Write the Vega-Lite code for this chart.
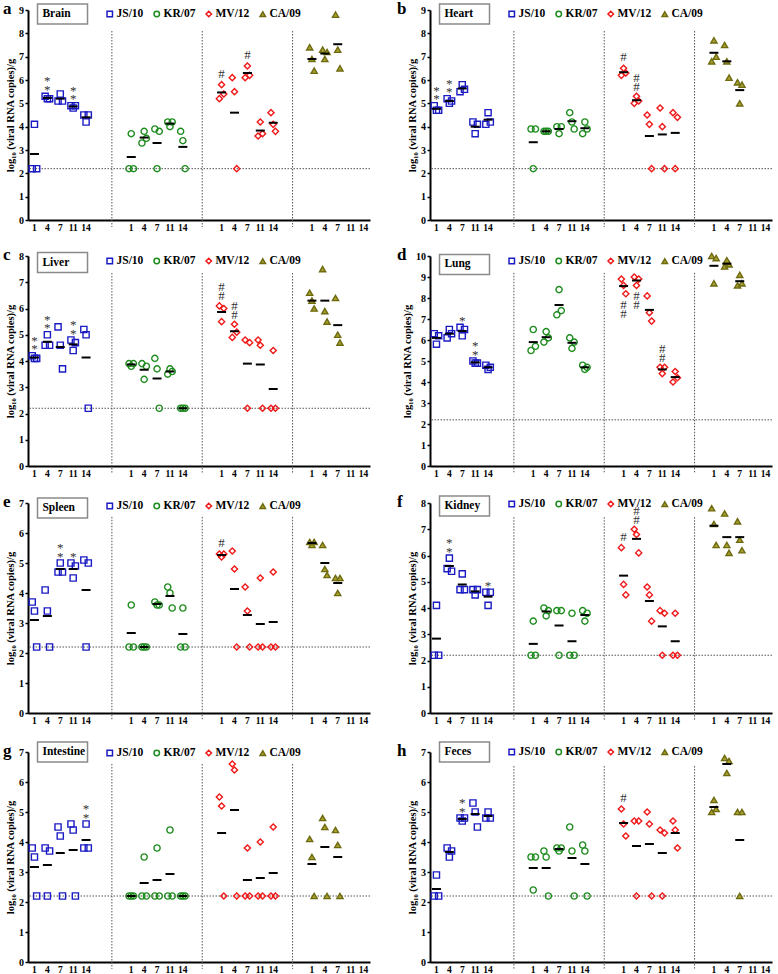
{
"$schema": "https://vega.github.io/schema/vega-lite/v6.json",
"background": "white",
"padding": {"left": 2, "top": 0, "right": 0, "bottom": 0},
"config": {
 "view": {"stroke": null},
 "font": "Liberation Serif",
 "text": {"font": "Liberation Serif"},
 "rule": {"color": "#555", "strokeWidth": 1, "strokeDash": [1.5, 1.5]},
 "axis": {"labelFont": "Liberation Serif", "labelFontWeight": "bold", "labelColor": "#000", "titleFont": "Liberation Serif", "titleFontWeight": "bold", "titleColor": "#000", "domainColor": "#000", "domainWidth": 2, "tickColor": "#000", "grid": false},
 "axisX": {"ticks": false, "labelFontSize": 9.5, "labelPadding": 2, "labelAngle": 0, "labelOverlap": false},
 "axisY": {"tickSize": 3, "tickWidth": 1.5, "labelFontSize": 10, "labelPadding": 1.5, "labelOverlap": false, "titleFontSize": 10.5, "titlePadding": 3},
 "legend": {"labelFont": "Liberation Serif", "labelFontWeight": "bold", "labelFontSize": 11.5, "labelColor": "#000", "symbolSize": 30, "symbolStrokeWidth": 1.5, "columnPadding": 7, "labelOffset": 1, "padding": 0, "rowPadding": 0}
},
"datasets": {
"brain": [
{"virus":"JS/10","cond":"JS/10|1","mouse":1,"value":2.2},{"virus":"JS/10","cond":"JS/10|1","mouse":2,"value":4.1},{"virus":"JS/10","cond":"JS/10|1","mouse":3,"value":2.2},
{"virus":"JS/10","cond":"JS/10|4","mouse":1,"value":5.3,"star":"*\n*"},{"virus":"JS/10","cond":"JS/10|4","mouse":2,"value":5.2},{"virus":"JS/10","cond":"JS/10|4","mouse":3,"value":5.2},
{"virus":"JS/10","cond":"JS/10|7","mouse":1,"value":5.1},{"virus":"JS/10","cond":"JS/10|7","mouse":2,"value":5.4},{"virus":"JS/10","cond":"JS/10|7","mouse":3,"value":5.1},
{"virus":"JS/10","cond":"JS/10|11","mouse":1,"value":4.9,"star":"*\n*"},{"virus":"JS/10","cond":"JS/10|11","mouse":2,"value":4.8},{"virus":"JS/10","cond":"JS/10|11","mouse":3,"value":4.9},
{"virus":"JS/10","cond":"JS/10|14","mouse":1,"value":4.5},{"virus":"JS/10","cond":"JS/10|14","mouse":2,"value":4.2},{"virus":"JS/10","cond":"JS/10|14","mouse":3,"value":4.5},
{"virus":"KR/07","cond":"KR/07|1","mouse":1,"value":2.2},{"virus":"KR/07","cond":"KR/07|1","mouse":2,"value":3.7},{"virus":"KR/07","cond":"KR/07|1","mouse":3,"value":2.2},
{"virus":"KR/07","cond":"KR/07|4","mouse":1,"value":3.3},{"virus":"KR/07","cond":"KR/07|4","mouse":2,"value":3.8},{"virus":"KR/07","cond":"KR/07|4","mouse":3,"value":3.5},
{"virus":"KR/07","cond":"KR/07|7","mouse":1,"value":3.9},{"virus":"KR/07","cond":"KR/07|7","mouse":2,"value":2.2},{"virus":"KR/07","cond":"KR/07|7","mouse":3,"value":3.8},
{"virus":"KR/07","cond":"KR/07|11","mouse":1,"value":4.2},{"virus":"KR/07","cond":"KR/07|11","mouse":2,"value":4.0},{"virus":"KR/07","cond":"KR/07|11","mouse":3,"value":4.2},
{"virus":"KR/07","cond":"KR/07|14","mouse":1,"value":3.8},{"virus":"KR/07","cond":"KR/07|14","mouse":2,"value":3.4},{"virus":"KR/07","cond":"KR/07|14","mouse":3,"value":2.2},
{"virus":"MV/12","cond":"MV/12|1","mouse":1,"value":5.2},{"virus":"MV/12","cond":"MV/12|1","mouse":2,"value":5.8,"hash":"#"},{"virus":"MV/12","cond":"MV/12|1","mouse":3,"value":5.4},
{"virus":"MV/12","cond":"MV/12|4","mouse":1,"value":6.1},{"virus":"MV/12","cond":"MV/12|4","mouse":2,"value":5.5},{"virus":"MV/12","cond":"MV/12|4","mouse":3,"value":2.2},
{"virus":"MV/12","cond":"MV/12|7","mouse":1,"value":6.1},{"virus":"MV/12","cond":"MV/12|7","mouse":2,"value":6.6,"hash":"#"},{"virus":"MV/12","cond":"MV/12|7","mouse":3,"value":6.2},
{"virus":"MV/12","cond":"MV/12|11","mouse":1,"value":3.6},{"virus":"MV/12","cond":"MV/12|11","mouse":2,"value":4.2},{"virus":"MV/12","cond":"MV/12|11","mouse":3,"value":3.7},
{"virus":"MV/12","cond":"MV/12|14","mouse":1,"value":4.6},{"virus":"MV/12","cond":"MV/12|14","mouse":2,"value":4.1},{"virus":"MV/12","cond":"MV/12|14","mouse":3,"value":3.8},
{"virus":"CA/09","cond":"CA/09|1","mouse":1,"value":7.4},{"virus":"CA/09","cond":"CA/09|1","mouse":2,"value":6.9},{"virus":"CA/09","cond":"CA/09|1","mouse":3,"value":6.4},
{"virus":"CA/09","cond":"CA/09|4","mouse":1,"value":7.3},{"virus":"CA/09","cond":"CA/09|4","mouse":2,"value":6.9},{"virus":"CA/09","cond":"CA/09|4","mouse":3,"value":7.2},
{"virus":"CA/09","cond":"CA/09|7","mouse":1,"value":8.8},{"virus":"CA/09","cond":"CA/09|7","mouse":2,"value":7.3},{"virus":"CA/09","cond":"CA/09|7","mouse":3,"value":6.5}
],
"heart": [
{"virus":"JS/10","cond":"JS/10|1","mouse":1,"value":4.9,"star":"*\n*"},{"virus":"JS/10","cond":"JS/10|1","mouse":2,"value":4.7},{"virus":"JS/10","cond":"JS/10|1","mouse":3,"value":4.7},
{"virus":"JS/10","cond":"JS/10|4","mouse":1,"value":5.2,"star":"*\n*"},{"virus":"JS/10","cond":"JS/10|4","mouse":2,"value":5.0},{"virus":"JS/10","cond":"JS/10|4","mouse":3,"value":5.1},
{"virus":"JS/10","cond":"JS/10|7","mouse":1,"value":5.5},{"virus":"JS/10","cond":"JS/10|7","mouse":2,"value":5.8},{"virus":"JS/10","cond":"JS/10|7","mouse":3,"value":5.6},
{"virus":"JS/10","cond":"JS/10|11","mouse":1,"value":4.2},{"virus":"JS/10","cond":"JS/10|11","mouse":2,"value":3.7},{"virus":"JS/10","cond":"JS/10|11","mouse":3,"value":4.1},
{"virus":"JS/10","cond":"JS/10|14","mouse":1,"value":4.1},{"virus":"JS/10","cond":"JS/10|14","mouse":2,"value":4.6},{"virus":"JS/10","cond":"JS/10|14","mouse":3,"value":4.2},
{"virus":"KR/07","cond":"KR/07|1","mouse":1,"value":3.9},{"virus":"KR/07","cond":"KR/07|1","mouse":2,"value":2.2},{"virus":"KR/07","cond":"KR/07|1","mouse":3,"value":3.9},
{"virus":"KR/07","cond":"KR/07|4","mouse":1,"value":3.8},{"virus":"KR/07","cond":"KR/07|4","mouse":2,"value":3.8},{"virus":"KR/07","cond":"KR/07|4","mouse":3,"value":3.8},
{"virus":"KR/07","cond":"KR/07|7","mouse":1,"value":4.0},{"virus":"KR/07","cond":"KR/07|7","mouse":2,"value":3.7},{"virus":"KR/07","cond":"KR/07|7","mouse":3,"value":4.0},
{"virus":"KR/07","cond":"KR/07|11","mouse":1,"value":4.6},{"virus":"KR/07","cond":"KR/07|11","mouse":2,"value":4.2},{"virus":"KR/07","cond":"KR/07|11","mouse":3,"value":3.9},
{"virus":"KR/07","cond":"KR/07|14","mouse":1,"value":3.7},{"virus":"KR/07","cond":"KR/07|14","mouse":2,"value":4.2},{"virus":"KR/07","cond":"KR/07|14","mouse":3,"value":3.9},
{"virus":"MV/12","cond":"MV/12|1","mouse":1,"value":6.2},{"virus":"MV/12","cond":"MV/12|1","mouse":2,"value":6.5,"hash":"#"},{"virus":"MV/12","cond":"MV/12|1","mouse":3,"value":6.3},
{"virus":"MV/12","cond":"MV/12|4","mouse":1,"value":5.0},{"virus":"MV/12","cond":"MV/12|4","mouse":2,"value":5.3,"hash":"#\n#"},{"virus":"MV/12","cond":"MV/12|4","mouse":3,"value":5.1},
{"virus":"MV/12","cond":"MV/12|7","mouse":1,"value":4.5},{"virus":"MV/12","cond":"MV/12|7","mouse":2,"value":4.1},{"virus":"MV/12","cond":"MV/12|7","mouse":3,"value":2.2},
{"virus":"MV/12","cond":"MV/12|11","mouse":1,"value":4.8},{"virus":"MV/12","cond":"MV/12|11","mouse":2,"value":4.0},{"virus":"MV/12","cond":"MV/12|11","mouse":3,"value":2.2},
{"virus":"MV/12","cond":"MV/12|14","mouse":1,"value":4.6},{"virus":"MV/12","cond":"MV/12|14","mouse":2,"value":2.2},{"virus":"MV/12","cond":"MV/12|14","mouse":3,"value":4.4},
{"virus":"CA/09","cond":"CA/09|1","mouse":1,"value":6.8},{"virus":"CA/09","cond":"CA/09|1","mouse":2,"value":7.7},{"virus":"CA/09","cond":"CA/09|1","mouse":3,"value":7.0},
{"virus":"CA/09","cond":"CA/09|4","mouse":1,"value":7.5},{"virus":"CA/09","cond":"CA/09|4","mouse":2,"value":6.8},{"virus":"CA/09","cond":"CA/09|4","mouse":3,"value":6.1},
{"virus":"CA/09","cond":"CA/09|7","mouse":1,"value":5.9},{"virus":"CA/09","cond":"CA/09|7","mouse":2,"value":5.0},{"virus":"CA/09","cond":"CA/09|7","mouse":3,"value":5.8}
],
"liver": [
{"virus":"JS/10","cond":"JS/10|1","mouse":1,"value":4.2,"star":"*\n*"},{"virus":"JS/10","cond":"JS/10|1","mouse":2,"value":4.1},{"virus":"JS/10","cond":"JS/10|1","mouse":3,"value":4.1},
{"virus":"JS/10","cond":"JS/10|4","mouse":1,"value":4.6},{"virus":"JS/10","cond":"JS/10|4","mouse":2,"value":5.0,"star":"*\n*"},{"virus":"JS/10","cond":"JS/10|4","mouse":3,"value":4.6},
{"virus":"JS/10","cond":"JS/10|7","mouse":1,"value":5.3},{"virus":"JS/10","cond":"JS/10|7","mouse":2,"value":4.6},{"virus":"JS/10","cond":"JS/10|7","mouse":3,"value":3.7},
{"virus":"JS/10","cond":"JS/10|11","mouse":1,"value":4.8,"star":"*\n*"},{"virus":"JS/10","cond":"JS/10|11","mouse":2,"value":4.4},{"virus":"JS/10","cond":"JS/10|11","mouse":3,"value":4.7},
{"virus":"JS/10","cond":"JS/10|14","mouse":1,"value":5.2},{"virus":"JS/10","cond":"JS/10|14","mouse":2,"value":5.0},{"virus":"JS/10","cond":"JS/10|14","mouse":3,"value":2.2},
{"virus":"KR/07","cond":"KR/07|1","mouse":1,"value":3.9},{"virus":"KR/07","cond":"KR/07|1","mouse":2,"value":3.8},{"virus":"KR/07","cond":"KR/07|1","mouse":3,"value":3.9},
{"virus":"KR/07","cond":"KR/07|4","mouse":1,"value":3.9},{"virus":"KR/07","cond":"KR/07|4","mouse":2,"value":3.3},{"virus":"KR/07","cond":"KR/07|4","mouse":3,"value":3.8},
{"virus":"KR/07","cond":"KR/07|7","mouse":1,"value":4.1},{"virus":"KR/07","cond":"KR/07|7","mouse":2,"value":3.7},{"virus":"KR/07","cond":"KR/07|7","mouse":3,"value":2.2},
{"virus":"KR/07","cond":"KR/07|11","mouse":1,"value":3.5},{"virus":"KR/07","cond":"KR/07|11","mouse":2,"value":3.7},{"virus":"KR/07","cond":"KR/07|11","mouse":3,"value":3.6},
{"virus":"KR/07","cond":"KR/07|14","mouse":1,"value":2.2},{"virus":"KR/07","cond":"KR/07|14","mouse":2,"value":2.2},{"virus":"KR/07","cond":"KR/07|14","mouse":3,"value":2.2},
{"virus":"MV/12","cond":"MV/12|1","mouse":1,"value":6.1,"hash":"#\n#"},{"virus":"MV/12","cond":"MV/12|1","mouse":2,"value":5.5},{"virus":"MV/12","cond":"MV/12|1","mouse":3,"value":6.0},
{"virus":"MV/12","cond":"MV/12|4","mouse":1,"value":4.9},{"virus":"MV/12","cond":"MV/12|4","mouse":2,"value":5.4,"hash":"#\n#"},{"virus":"MV/12","cond":"MV/12|4","mouse":3,"value":5.1},
{"virus":"MV/12","cond":"MV/12|7","mouse":1,"value":4.8},{"virus":"MV/12","cond":"MV/12|7","mouse":2,"value":2.2},{"virus":"MV/12","cond":"MV/12|7","mouse":3,"value":4.7},
{"virus":"MV/12","cond":"MV/12|11","mouse":1,"value":4.8},{"virus":"MV/12","cond":"MV/12|11","mouse":2,"value":4.6},{"virus":"MV/12","cond":"MV/12|11","mouse":3,"value":2.2},
{"virus":"MV/12","cond":"MV/12|14","mouse":1,"value":2.2},{"virus":"MV/12","cond":"MV/12|14","mouse":2,"value":4.4},{"virus":"MV/12","cond":"MV/12|14","mouse":3,"value":2.2},
{"virus":"CA/09","cond":"CA/09|1","mouse":1,"value":6.6},{"virus":"CA/09","cond":"CA/09|1","mouse":2,"value":6.3},{"virus":"CA/09","cond":"CA/09|1","mouse":3,"value":6.0},
{"virus":"CA/09","cond":"CA/09|4","mouse":1,"value":7.5},{"virus":"CA/09","cond":"CA/09|4","mouse":2,"value":5.9},{"virus":"CA/09","cond":"CA/09|4","mouse":3,"value":5.5},
{"virus":"CA/09","cond":"CA/09|7","mouse":1,"value":6.4},{"virus":"CA/09","cond":"CA/09|7","mouse":2,"value":5.0},{"virus":"CA/09","cond":"CA/09|7","mouse":3,"value":4.7}
],
"lung": [
{"virus":"JS/10","cond":"JS/10|1","mouse":1,"value":6.3},{"virus":"JS/10","cond":"JS/10|1","mouse":2,"value":5.8},{"virus":"JS/10","cond":"JS/10|1","mouse":3,"value":6.2},
{"virus":"JS/10","cond":"JS/10|4","mouse":1,"value":6.1},{"virus":"JS/10","cond":"JS/10|4","mouse":2,"value":6.5},{"virus":"JS/10","cond":"JS/10|4","mouse":3,"value":6.3},
{"virus":"JS/10","cond":"JS/10|7","mouse":1,"value":6.6,"star":"*"},{"virus":"JS/10","cond":"JS/10|7","mouse":2,"value":6.2},{"virus":"JS/10","cond":"JS/10|7","mouse":3,"value":6.5},
{"virus":"JS/10","cond":"JS/10|11","mouse":1,"value":5.0,"star":"*\n*"},{"virus":"JS/10","cond":"JS/10|11","mouse":2,"value":4.9},{"virus":"JS/10","cond":"JS/10|11","mouse":3,"value":4.9},
{"virus":"JS/10","cond":"JS/10|14","mouse":1,"value":4.8},{"virus":"JS/10","cond":"JS/10|14","mouse":2,"value":4.6},{"virus":"JS/10","cond":"JS/10|14","mouse":3,"value":4.7},
{"virus":"KR/07","cond":"KR/07|1","mouse":1,"value":5.5},{"virus":"KR/07","cond":"KR/07|1","mouse":2,"value":6.5},{"virus":"KR/07","cond":"KR/07|1","mouse":3,"value":5.7},
{"virus":"KR/07","cond":"KR/07|4","mouse":1,"value":5.9},{"virus":"KR/07","cond":"KR/07|4","mouse":2,"value":6.4},{"virus":"KR/07","cond":"KR/07|4","mouse":3,"value":6.1},
{"virus":"KR/07","cond":"KR/07|7","mouse":1,"value":7.2},{"virus":"KR/07","cond":"KR/07|7","mouse":2,"value":8.4},{"virus":"KR/07","cond":"KR/07|7","mouse":3,"value":7.4},
{"virus":"KR/07","cond":"KR/07|11","mouse":1,"value":6.1},{"virus":"KR/07","cond":"KR/07|11","mouse":2,"value":5.6},{"virus":"KR/07","cond":"KR/07|11","mouse":3,"value":5.9},
{"virus":"KR/07","cond":"KR/07|14","mouse":1,"value":4.8},{"virus":"KR/07","cond":"KR/07|14","mouse":2,"value":4.6},{"virus":"KR/07","cond":"KR/07|14","mouse":3,"value":4.7},
{"virus":"MV/12","cond":"MV/12|1","mouse":1,"value":8.9},{"virus":"MV/12","cond":"MV/12|1","mouse":2,"value":8.6},{"virus":"MV/12","cond":"MV/12|1","mouse":3,"value":8.2,"hashBelow":"#\n#"},
{"virus":"MV/12","cond":"MV/12|4","mouse":1,"value":9.0},{"virus":"MV/12","cond":"MV/12|4","mouse":2,"value":8.6,"hashBelow":"#\n#"},{"virus":"MV/12","cond":"MV/12|4","mouse":3,"value":8.9},
{"virus":"MV/12","cond":"MV/12|7","mouse":1,"value":8.1},{"virus":"MV/12","cond":"MV/12|7","mouse":2,"value":7.3},{"virus":"MV/12","cond":"MV/12|7","mouse":3,"value":6.9},
{"virus":"MV/12","cond":"MV/12|11","mouse":1,"value":4.7,"hash":"#\n#"},{"virus":"MV/12","cond":"MV/12|11","mouse":2,"value":4.4},{"virus":"MV/12","cond":"MV/12|11","mouse":3,"value":4.7},
{"virus":"MV/12","cond":"MV/12|14","mouse":1,"value":4.0},{"virus":"MV/12","cond":"MV/12|14","mouse":2,"value":4.5},{"virus":"MV/12","cond":"MV/12|14","mouse":3,"value":4.2},
{"virus":"CA/09","cond":"CA/09|1","mouse":1,"value":10.0},{"virus":"CA/09","cond":"CA/09|1","mouse":2,"value":8.7},{"virus":"CA/09","cond":"CA/09|1","mouse":3,"value":9.9},
{"virus":"CA/09","cond":"CA/09|4","mouse":1,"value":9.5},{"virus":"CA/09","cond":"CA/09|4","mouse":2,"value":9.8},{"virus":"CA/09","cond":"CA/09|4","mouse":3,"value":9.6},
{"virus":"CA/09","cond":"CA/09|7","mouse":1,"value":8.6},{"virus":"CA/09","cond":"CA/09|7","mouse":2,"value":9.1},{"virus":"CA/09","cond":"CA/09|7","mouse":3,"value":8.7}
],
"spleen": [
{"virus":"JS/10","cond":"JS/10|1","mouse":1,"value":3.7},{"virus":"JS/10","cond":"JS/10|1","mouse":2,"value":3.4},{"virus":"JS/10","cond":"JS/10|1","mouse":3,"value":2.2},
{"virus":"JS/10","cond":"JS/10|4","mouse":1,"value":4.1},{"virus":"JS/10","cond":"JS/10|4","mouse":2,"value":3.4},{"virus":"JS/10","cond":"JS/10|4","mouse":3,"value":2.2},
{"virus":"JS/10","cond":"JS/10|7","mouse":1,"value":4.7},{"virus":"JS/10","cond":"JS/10|7","mouse":2,"value":5.0,"star":"*\n*"},{"virus":"JS/10","cond":"JS/10|7","mouse":3,"value":4.7},
{"virus":"JS/10","cond":"JS/10|11","mouse":1,"value":5.0,"star":"*"},{"virus":"JS/10","cond":"JS/10|11","mouse":2,"value":4.5},{"virus":"JS/10","cond":"JS/10|11","mouse":3,"value":4.9},
{"virus":"JS/10","cond":"JS/10|14","mouse":1,"value":5.1},{"virus":"JS/10","cond":"JS/10|14","mouse":2,"value":2.2},{"virus":"JS/10","cond":"JS/10|14","mouse":3,"value":5.0},
{"virus":"KR/07","cond":"KR/07|1","mouse":1,"value":2.2},{"virus":"KR/07","cond":"KR/07|1","mouse":2,"value":3.6},{"virus":"KR/07","cond":"KR/07|1","mouse":3,"value":2.2},
{"virus":"KR/07","cond":"KR/07|4","mouse":1,"value":2.2},{"virus":"KR/07","cond":"KR/07|4","mouse":2,"value":2.2},{"virus":"KR/07","cond":"KR/07|4","mouse":3,"value":2.2},
{"virus":"KR/07","cond":"KR/07|7","mouse":1,"value":3.7},{"virus":"KR/07","cond":"KR/07|7","mouse":2,"value":3.6},{"virus":"KR/07","cond":"KR/07|7","mouse":3,"value":3.6},
{"virus":"KR/07","cond":"KR/07|11","mouse":1,"value":4.2},{"virus":"KR/07","cond":"KR/07|11","mouse":2,"value":4.0},{"virus":"KR/07","cond":"KR/07|11","mouse":3,"value":3.5},
{"virus":"KR/07","cond":"KR/07|14","mouse":1,"value":2.2},{"virus":"KR/07","cond":"KR/07|14","mouse":2,"value":3.5},{"virus":"KR/07","cond":"KR/07|14","mouse":3,"value":2.2},
{"virus":"MV/12","cond":"MV/12|1","mouse":1,"value":5.3},{"virus":"MV/12","cond":"MV/12|1","mouse":2,"value":5.2},{"virus":"MV/12","cond":"MV/12|1","mouse":3,"value":5.3,"hash":"#"},
{"virus":"MV/12","cond":"MV/12|4","mouse":1,"value":5.4},{"virus":"MV/12","cond":"MV/12|4","mouse":2,"value":4.8},{"virus":"MV/12","cond":"MV/12|4","mouse":3,"value":2.2},
{"virus":"MV/12","cond":"MV/12|7","mouse":1,"value":4.2},{"virus":"MV/12","cond":"MV/12|7","mouse":2,"value":3.4},{"virus":"MV/12","cond":"MV/12|7","mouse":3,"value":2.2},
{"virus":"MV/12","cond":"MV/12|11","mouse":1,"value":2.2},{"virus":"MV/12","cond":"MV/12|11","mouse":2,"value":4.5},{"virus":"MV/12","cond":"MV/12|11","mouse":3,"value":2.2},
{"virus":"MV/12","cond":"MV/12|14","mouse":1,"value":2.2},{"virus":"MV/12","cond":"MV/12|14","mouse":2,"value":4.7},{"virus":"MV/12","cond":"MV/12|14","mouse":3,"value":2.2},
{"virus":"CA/09","cond":"CA/09|1","mouse":1,"value":5.7},{"virus":"CA/09","cond":"CA/09|1","mouse":2,"value":5.6},{"virus":"CA/09","cond":"CA/09|1","mouse":3,"value":5.7},
{"virus":"CA/09","cond":"CA/09|4","mouse":1,"value":5.6},{"virus":"CA/09","cond":"CA/09|4","mouse":2,"value":4.8},{"virus":"CA/09","cond":"CA/09|4","mouse":3,"value":4.6},
{"virus":"CA/09","cond":"CA/09|7","mouse":1,"value":4.5},{"virus":"CA/09","cond":"CA/09|7","mouse":2,"value":4.0},{"virus":"CA/09","cond":"CA/09|7","mouse":3,"value":4.5}
],
"kidney": [
{"virus":"JS/10","cond":"JS/10|1","mouse":1,"value":2.2},{"virus":"JS/10","cond":"JS/10|1","mouse":2,"value":4.1},{"virus":"JS/10","cond":"JS/10|1","mouse":3,"value":2.2},
{"virus":"JS/10","cond":"JS/10|4","mouse":1,"value":5.5},{"virus":"JS/10","cond":"JS/10|4","mouse":2,"value":5.9,"star":"*\n*"},{"virus":"JS/10","cond":"JS/10|4","mouse":3,"value":5.4},
{"virus":"JS/10","cond":"JS/10|7","mouse":1,"value":4.7},{"virus":"JS/10","cond":"JS/10|7","mouse":2,"value":5.3},{"virus":"JS/10","cond":"JS/10|7","mouse":3,"value":4.7},
{"virus":"JS/10","cond":"JS/10|11","mouse":1,"value":4.7},{"virus":"JS/10","cond":"JS/10|11","mouse":2,"value":4.5},{"virus":"JS/10","cond":"JS/10|11","mouse":3,"value":4.7},
{"virus":"JS/10","cond":"JS/10|14","mouse":1,"value":4.6,"star":"*"},{"virus":"JS/10","cond":"JS/10|14","mouse":2,"value":4.1},{"virus":"JS/10","cond":"JS/10|14","mouse":3,"value":4.6},
{"virus":"KR/07","cond":"KR/07|1","mouse":1,"value":2.2},{"virus":"KR/07","cond":"KR/07|1","mouse":2,"value":3.5},{"virus":"KR/07","cond":"KR/07|1","mouse":3,"value":2.2},
{"virus":"KR/07","cond":"KR/07|4","mouse":1,"value":4.0},{"virus":"KR/07","cond":"KR/07|4","mouse":2,"value":3.7},{"virus":"KR/07","cond":"KR/07|4","mouse":3,"value":3.9},
{"virus":"KR/07","cond":"KR/07|7","mouse":1,"value":3.9},{"virus":"KR/07","cond":"KR/07|7","mouse":2,"value":2.2},{"virus":"KR/07","cond":"KR/07|7","mouse":3,"value":3.9},
{"virus":"KR/07","cond":"KR/07|11","mouse":1,"value":2.2},{"virus":"KR/07","cond":"KR/07|11","mouse":2,"value":3.8},{"virus":"KR/07","cond":"KR/07|11","mouse":3,"value":2.2},
{"virus":"KR/07","cond":"KR/07|14","mouse":1,"value":3.9},{"virus":"KR/07","cond":"KR/07|14","mouse":2,"value":3.5},{"virus":"KR/07","cond":"KR/07|14","mouse":3,"value":3.8},
{"virus":"MV/12","cond":"MV/12|1","mouse":1,"value":6.3,"hash":"#"},{"virus":"MV/12","cond":"MV/12|1","mouse":2,"value":4.9},{"virus":"MV/12","cond":"MV/12|1","mouse":3,"value":4.5},
{"virus":"MV/12","cond":"MV/12|4","mouse":1,"value":7.0,"hash":"#\n#"},{"virus":"MV/12","cond":"MV/12|4","mouse":2,"value":6.8},{"virus":"MV/12","cond":"MV/12|4","mouse":3,"value":6.1},
{"virus":"MV/12","cond":"MV/12|7","mouse":1,"value":4.8},{"virus":"MV/12","cond":"MV/12|7","mouse":2,"value":4.5},{"virus":"MV/12","cond":"MV/12|7","mouse":3,"value":3.5},
{"virus":"MV/12","cond":"MV/12|11","mouse":1,"value":3.9},{"virus":"MV/12","cond":"MV/12|11","mouse":2,"value":2.2},{"virus":"MV/12","cond":"MV/12|11","mouse":3,"value":3.8},
{"virus":"MV/12","cond":"MV/12|14","mouse":1,"value":2.2},{"virus":"MV/12","cond":"MV/12|14","mouse":2,"value":3.8},{"virus":"MV/12","cond":"MV/12|14","mouse":3,"value":2.2},
{"virus":"CA/09","cond":"CA/09|1","mouse":1,"value":7.8},{"virus":"CA/09","cond":"CA/09|1","mouse":2,"value":7.2},{"virus":"CA/09","cond":"CA/09|1","mouse":3,"value":6.4},
{"virus":"CA/09","cond":"CA/09|4","mouse":1,"value":7.6},{"virus":"CA/09","cond":"CA/09|4","mouse":2,"value":6.4},{"virus":"CA/09","cond":"CA/09|4","mouse":3,"value":6.1},
{"virus":"CA/09","cond":"CA/09|7","mouse":1,"value":7.3},{"virus":"CA/09","cond":"CA/09|7","mouse":2,"value":6.6},{"virus":"CA/09","cond":"CA/09|7","mouse":3,"value":6.2}
],
"intestine": [
{"virus":"JS/10","cond":"JS/10|1","mouse":1,"value":3.8},{"virus":"JS/10","cond":"JS/10|1","mouse":2,"value":3.5},{"virus":"JS/10","cond":"JS/10|1","mouse":3,"value":2.2},
{"virus":"JS/10","cond":"JS/10|4","mouse":1,"value":3.8},{"virus":"JS/10","cond":"JS/10|4","mouse":2,"value":2.2},{"virus":"JS/10","cond":"JS/10|4","mouse":3,"value":3.7},
{"virus":"JS/10","cond":"JS/10|7","mouse":1,"value":4.5},{"virus":"JS/10","cond":"JS/10|7","mouse":2,"value":4.2},{"virus":"JS/10","cond":"JS/10|7","mouse":3,"value":2.2},
{"virus":"JS/10","cond":"JS/10|11","mouse":1,"value":4.6},{"virus":"JS/10","cond":"JS/10|11","mouse":2,"value":4.4},{"virus":"JS/10","cond":"JS/10|11","mouse":3,"value":2.2},
{"virus":"JS/10","cond":"JS/10|14","mouse":1,"value":3.8},{"virus":"JS/10","cond":"JS/10|14","mouse":2,"value":4.6,"star":"*\n*"},{"virus":"JS/10","cond":"JS/10|14","mouse":3,"value":3.8},
{"virus":"KR/07","cond":"KR/07|1","mouse":1,"value":2.2},{"virus":"KR/07","cond":"KR/07|1","mouse":2,"value":2.2},{"virus":"KR/07","cond":"KR/07|1","mouse":3,"value":2.2},
{"virus":"KR/07","cond":"KR/07|4","mouse":1,"value":2.2},{"virus":"KR/07","cond":"KR/07|4","mouse":2,"value":3.5},{"virus":"KR/07","cond":"KR/07|4","mouse":3,"value":2.2},
{"virus":"KR/07","cond":"KR/07|7","mouse":1,"value":2.2},{"virus":"KR/07","cond":"KR/07|7","mouse":2,"value":3.8},{"virus":"KR/07","cond":"KR/07|7","mouse":3,"value":2.2},
{"virus":"KR/07","cond":"KR/07|11","mouse":1,"value":2.2},{"virus":"KR/07","cond":"KR/07|11","mouse":2,"value":4.4},{"virus":"KR/07","cond":"KR/07|11","mouse":3,"value":2.2},
{"virus":"KR/07","cond":"KR/07|14","mouse":1,"value":2.2},{"virus":"KR/07","cond":"KR/07|14","mouse":2,"value":2.2},{"virus":"KR/07","cond":"KR/07|14","mouse":3,"value":2.2},
{"virus":"MV/12","cond":"MV/12|1","mouse":1,"value":5.5},{"virus":"MV/12","cond":"MV/12|1","mouse":2,"value":5.2},{"virus":"MV/12","cond":"MV/12|1","mouse":3,"value":2.2},
{"virus":"MV/12","cond":"MV/12|4","mouse":1,"value":6.6},{"virus":"MV/12","cond":"MV/12|4","mouse":2,"value":6.4},{"virus":"MV/12","cond":"MV/12|4","mouse":3,"value":2.2},
{"virus":"MV/12","cond":"MV/12|7","mouse":1,"value":2.2},{"virus":"MV/12","cond":"MV/12|7","mouse":2,"value":3.8},{"virus":"MV/12","cond":"MV/12|7","mouse":3,"value":2.2},
{"virus":"MV/12","cond":"MV/12|11","mouse":1,"value":2.2},{"virus":"MV/12","cond":"MV/12|11","mouse":2,"value":4.0},{"virus":"MV/12","cond":"MV/12|11","mouse":3,"value":2.2},
{"virus":"MV/12","cond":"MV/12|14","mouse":1,"value":2.2},{"virus":"MV/12","cond":"MV/12|14","mouse":2,"value":4.5},{"virus":"MV/12","cond":"MV/12|14","mouse":3,"value":2.2},
{"virus":"CA/09","cond":"CA/09|1","mouse":1,"value":4.1},{"virus":"CA/09","cond":"CA/09|1","mouse":2,"value":3.5},{"virus":"CA/09","cond":"CA/09|1","mouse":3,"value":2.2},
{"virus":"CA/09","cond":"CA/09|4","mouse":1,"value":4.8},{"virus":"CA/09","cond":"CA/09|4","mouse":2,"value":4.5},{"virus":"CA/09","cond":"CA/09|4","mouse":3,"value":2.2},
{"virus":"CA/09","cond":"CA/09|7","mouse":1,"value":4.4},{"virus":"CA/09","cond":"CA/09|7","mouse":2,"value":3.9},{"virus":"CA/09","cond":"CA/09|7","mouse":3,"value":2.2}
],
"feces": [
{"virus":"JS/10","cond":"JS/10|1","mouse":1,"value":2.2},{"virus":"JS/10","cond":"JS/10|1","mouse":2,"value":2.9},{"virus":"JS/10","cond":"JS/10|1","mouse":3,"value":2.2},
{"virus":"JS/10","cond":"JS/10|4","mouse":1,"value":3.8},{"virus":"JS/10","cond":"JS/10|4","mouse":2,"value":3.5},{"virus":"JS/10","cond":"JS/10|4","mouse":3,"value":3.7},
{"virus":"JS/10","cond":"JS/10|7","mouse":1,"value":4.8,"star":"*\n*"},{"virus":"JS/10","cond":"JS/10|7","mouse":2,"value":4.7},{"virus":"JS/10","cond":"JS/10|7","mouse":3,"value":4.8},
{"virus":"JS/10","cond":"JS/10|11","mouse":1,"value":5.3},{"virus":"JS/10","cond":"JS/10|11","mouse":2,"value":5.0},{"virus":"JS/10","cond":"JS/10|11","mouse":3,"value":4.5},
{"virus":"JS/10","cond":"JS/10|14","mouse":1,"value":4.8},{"virus":"JS/10","cond":"JS/10|14","mouse":2,"value":5.0},{"virus":"JS/10","cond":"JS/10|14","mouse":3,"value":4.8},
{"virus":"KR/07","cond":"KR/07|1","mouse":1,"value":3.5},{"virus":"KR/07","cond":"KR/07|1","mouse":2,"value":2.4},{"virus":"KR/07","cond":"KR/07|1","mouse":3,"value":3.5},
{"virus":"KR/07","cond":"KR/07|4","mouse":1,"value":3.7},{"virus":"KR/07","cond":"KR/07|4","mouse":2,"value":3.5},{"virus":"KR/07","cond":"KR/07|4","mouse":3,"value":2.2},
{"virus":"KR/07","cond":"KR/07|7","mouse":1,"value":3.8},{"virus":"KR/07","cond":"KR/07|7","mouse":2,"value":3.7},{"virus":"KR/07","cond":"KR/07|7","mouse":3,"value":3.8},
{"virus":"KR/07","cond":"KR/07|11","mouse":1,"value":4.5},{"virus":"KR/07","cond":"KR/07|11","mouse":2,"value":3.7},{"virus":"KR/07","cond":"KR/07|11","mouse":3,"value":2.2},
{"virus":"KR/07","cond":"KR/07|14","mouse":1,"value":3.9},{"virus":"KR/07","cond":"KR/07|14","mouse":2,"value":3.7},{"virus":"KR/07","cond":"KR/07|14","mouse":3,"value":2.2},
{"virus":"MV/12","cond":"MV/12|1","mouse":1,"value":5.1,"hash":"#"},{"virus":"MV/12","cond":"MV/12|1","mouse":2,"value":4.6},{"virus":"MV/12","cond":"MV/12|1","mouse":3,"value":4.2},
{"virus":"MV/12","cond":"MV/12|4","mouse":1,"value":4.7},{"virus":"MV/12","cond":"MV/12|4","mouse":2,"value":2.2},{"virus":"MV/12","cond":"MV/12|4","mouse":3,"value":4.7},
{"virus":"MV/12","cond":"MV/12|7","mouse":1,"value":5.0},{"virus":"MV/12","cond":"MV/12|7","mouse":2,"value":4.6},{"virus":"MV/12","cond":"MV/12|7","mouse":3,"value":2.2},
{"virus":"MV/12","cond":"MV/12|11","mouse":1,"value":4.4},{"virus":"MV/12","cond":"MV/12|11","mouse":2,"value":2.2},{"virus":"MV/12","cond":"MV/12|11","mouse":3,"value":4.3},
{"virus":"MV/12","cond":"MV/12|14","mouse":1,"value":4.7},{"virus":"MV/12","cond":"MV/12|14","mouse":2,"value":4.4},{"virus":"MV/12","cond":"MV/12|14","mouse":3,"value":3.8},
{"virus":"CA/09","cond":"CA/09|1","mouse":1,"value":5.0},{"virus":"CA/09","cond":"CA/09|1","mouse":2,"value":5.4},{"virus":"CA/09","cond":"CA/09|1","mouse":3,"value":5.1},
{"virus":"CA/09","cond":"CA/09|4","mouse":1,"value":6.8},{"virus":"CA/09","cond":"CA/09|4","mouse":2,"value":6.3},{"virus":"CA/09","cond":"CA/09|4","mouse":3,"value":6.7},
{"virus":"CA/09","cond":"CA/09|7","mouse":1,"value":5.0},{"virus":"CA/09","cond":"CA/09|7","mouse":2,"value":2.2},{"virus":"CA/09","cond":"CA/09|7","mouse":3,"value":5.0}
]
},
"columns": 2,
"spacing": {"row": 14, "column": 25},
"resolve": {"scale": {"shape": "independent", "fill": "independent", "stroke": "independent"}, "legend": {"shape": "independent", "fill": "independent", "stroke": "independent"}},
"concat": [
{"width": 342, "height": 210, "data": {"name": "brain"}, "resolve": {"axis": {"y": "independent"}}, "layer": [
 {"data": {"values": [{}]}, "mark": {"type": "rule"}, "encoding": {"y": {"datum": 2.2, "type": "quantitative", "axis": null}}},
 {"data": {"values": [{}]}, "mark": {"type": "rule"}, "encoding": {"x": {"datum": "d1", "type": "nominal", "title": null}, "y": {"datum": 8.1, "type": "quantitative", "axis": null}, "y2": {"datum": -0.3}}},
 {"data": {"values": [{}]}, "mark": {"type": "rule"}, "encoding": {"x": {"datum": "d2", "type": "nominal", "title": null}, "y": {"datum": 8.1, "type": "quantitative", "axis": null}, "y2": {"datum": -0.3}}},
 {"data": {"values": [{}]}, "mark": {"type": "rule"}, "encoding": {"x": {"datum": "d3", "type": "nominal", "title": null}, "y": {"datum": 8.1, "type": "quantitative", "axis": null}, "y2": {"datum": -0.3}}},
 {"mark": {"type": "point", "filled": true, "opacity": 1, "size": 38, "strokeWidth": 1.4},
  "encoding": {
   "x": {"field": "cond", "type": "nominal", "title": null, "scale": {"type": "band", "paddingInner": 0, "paddingOuter": 0.5, "domain": ["JS/10|1","s2","JS/10|4","s4","JS/10|7","s6","JS/10|11","s8","JS/10|14","s10","s11","s12","d1","s14","s15","KR/07|1","s17","KR/07|4","s19","KR/07|7","s21","KR/07|11","s23","KR/07|14","s25","s26","d2","s28","s29","MV/12|1","s31","MV/12|4","s33","MV/12|7","s35","MV/12|11","s37","MV/12|14","s39","s40","d3","s42","s43","CA/09|1","s45","CA/09|4","s47","CA/09|7","s49","CA/09|11","s51","CA/09|14"]}, "axis": {"title": null, "values": ["JS/10|1","JS/10|4","JS/10|7","JS/10|11","JS/10|14","KR/07|1","KR/07|4","KR/07|7","KR/07|11","KR/07|14","MV/12|1","MV/12|4","MV/12|7","MV/12|11","MV/12|14","CA/09|1","CA/09|4","CA/09|7","CA/09|11","CA/09|14"], "labelExpr": "split(datum.value, '|')[1]"}},
   "xOffset": {"field": "mouse", "type": "ordinal", "title": null, "scale": {"type": "point", "domain": [1, 2, 3], "padding": 0.45}},
   "y": {"field": "value", "type": "quantitative", "title": "log₁₀ (viral RNA copies)/g", "scale": {"domain": [0, 9], "nice": false}, "axis": {"values": [0,1,2,3,4,5,6,7,8,9], "labelOverlap": false}},
   "shape": {"field": "virus", "type": "nominal", "scale": {"domain": ["JS/10","KR/07","MV/12","CA/09"], "range": ["square","circle","diamond","triangle-up"]}, "legend": {"title": null, "orient": "none", "legendX": 76, "legendY": -2, "direction": "horizontal", "columns": 4}},
   "fill": {"field": "virus", "type": "nominal", "scale": {"domain": ["JS/10","KR/07","MV/12","CA/09"], "range": ["transparent","transparent","transparent","#A8A22C"]}},
   "stroke": {"field": "virus", "type": "nominal", "scale": {"domain": ["JS/10","KR/07","MV/12","CA/09"], "range": ["#1B1BC4","#1E8C1E","#F01818","#6E6A12"]}}
  }},
 {"mark": {"type": "tick", "color": "#000", "thickness": 2, "size": 9, "opacity": 1}, "encoding": {"x": {"field": "cond", "type": "nominal", "title": null}, "y": {"aggregate": "mean", "field": "value", "type": "quantitative", "axis": null}}},
 {"transform": [{"filter": "datum.star == '*'"}], "mark": {"type": "text", "lineBreak": "\n", "lineHeight": 8.5, "baseline": "bottom", "dy": 0.5, "fontSize": 13, "color": "#333"}, "encoding": {"x": {"field": "cond", "type": "nominal", "title": null}, "y": {"field": "value", "type": "quantitative", "axis": null}, "text": {"field": "star"}}},
 {"transform": [{"filter": "datum.star && datum.star != '*'"}], "mark": {"type": "text", "lineBreak": "\n", "lineHeight": 8.5, "baseline": "bottom", "dy": -8, "fontSize": 13, "color": "#333"}, "encoding": {"x": {"field": "cond", "type": "nominal", "title": null}, "y": {"field": "value", "type": "quantitative", "axis": null}, "text": {"field": "star"}}},
 {"transform": [{"filter": "datum.hash == '#'"}], "mark": {"type": "text", "lineBreak": "\n", "lineHeight": 9, "baseline": "bottom", "dy": -4, "fontSize": 13, "color": "#333"}, "encoding": {"x": {"field": "cond", "type": "nominal", "title": null}, "y": {"field": "value", "type": "quantitative", "axis": null}, "text": {"field": "hash"}}},
 {"transform": [{"filter": "datum.hash && datum.hash != '#'"}], "mark": {"type": "text", "lineBreak": "\n", "lineHeight": 9, "baseline": "bottom", "dy": -11.5, "fontSize": 13, "color": "#333"}, "encoding": {"x": {"field": "cond", "type": "nominal", "title": null}, "y": {"field": "value", "type": "quantitative", "axis": null}, "text": {"field": "hash"}}},
 {"data": {"values": [{}]}, "mark": {"type": "point", "shape": "M-0.91,-0.4H1.09V0.4H-0.91Z", "size": 2500, "filled": true, "fill": "#fff", "stroke": "#8a8a8a", "strokeWidth": 1.5, "opacity": 1}, "encoding": {"x": {"datum": "JS/10|7", "type": "nominal", "title": null}, "y": {"datum": 8.83, "type": "quantitative", "axis": null}}},
 {"data": {"values": [{}]}, "mark": {"type": "text", "text": "Brain", "align": "left", "baseline": "middle", "dx": 1.5, "fontSize": 11.5, "fontWeight": "bold", "color": "#000"}, "encoding": {"x": {"datum": "s2", "type": "nominal", "title": null}, "y": {"datum": 8.83, "type": "quantitative", "axis": null}}},
 {"data": {"values": [{}]}, "mark": {"type": "text", "text": "a", "align": "left", "baseline": "alphabetic", "dx": -31.5, "dy": 4, "fontSize": 17, "fontWeight": "bold", "color": "#000"}, "encoding": {"x": {"datum": "JS/10|1", "type": "nominal", "title": null}, "y": {"datum": 9, "type": "quantitative", "axis": null}}}
]},
{"width": 342, "height": 210, "data": {"name": "heart"}, "resolve": {"axis": {"y": "independent"}}, "layer": [
 {"data": {"values": [{}]}, "mark": {"type": "rule"}, "encoding": {"y": {"datum": 2.2, "type": "quantitative", "axis": null}}},
 {"data": {"values": [{}]}, "mark": {"type": "rule"}, "encoding": {"x": {"datum": "d1", "type": "nominal", "title": null}, "y": {"datum": 8.1, "type": "quantitative", "axis": null}, "y2": {"datum": -0.3}}},
 {"data": {"values": [{}]}, "mark": {"type": "rule"}, "encoding": {"x": {"datum": "d2", "type": "nominal", "title": null}, "y": {"datum": 8.1, "type": "quantitative", "axis": null}, "y2": {"datum": -0.3}}},
 {"data": {"values": [{}]}, "mark": {"type": "rule"}, "encoding": {"x": {"datum": "d3", "type": "nominal", "title": null}, "y": {"datum": 8.1, "type": "quantitative", "axis": null}, "y2": {"datum": -0.3}}},
 {"mark": {"type": "point", "filled": true, "opacity": 1, "size": 38, "strokeWidth": 1.4},
  "encoding": {
   "x": {"field": "cond", "type": "nominal", "title": null, "scale": {"type": "band", "paddingInner": 0, "paddingOuter": 0.5, "domain": ["JS/10|1","s2","JS/10|4","s4","JS/10|7","s6","JS/10|11","s8","JS/10|14","s10","s11","s12","d1","s14","s15","KR/07|1","s17","KR/07|4","s19","KR/07|7","s21","KR/07|11","s23","KR/07|14","s25","s26","d2","s28","s29","MV/12|1","s31","MV/12|4","s33","MV/12|7","s35","MV/12|11","s37","MV/12|14","s39","s40","d3","s42","s43","CA/09|1","s45","CA/09|4","s47","CA/09|7","s49","CA/09|11","s51","CA/09|14"]}, "axis": {"title": null, "values": ["JS/10|1","JS/10|4","JS/10|7","JS/10|11","JS/10|14","KR/07|1","KR/07|4","KR/07|7","KR/07|11","KR/07|14","MV/12|1","MV/12|4","MV/12|7","MV/12|11","MV/12|14","CA/09|1","CA/09|4","CA/09|7","CA/09|11","CA/09|14"], "labelExpr": "split(datum.value, '|')[1]"}},
   "xOffset": {"field": "mouse", "type": "ordinal", "title": null, "scale": {"type": "point", "domain": [1, 2, 3], "padding": 0.45}},
   "y": {"field": "value", "type": "quantitative", "title": "log₁₀ (viral RNA copies)/g", "scale": {"domain": [0, 9], "nice": false}, "axis": {"values": [0,1,2,3,4,5,6,7,8,9], "labelOverlap": false}},
   "shape": {"field": "virus", "type": "nominal", "scale": {"domain": ["JS/10","KR/07","MV/12","CA/09"], "range": ["square","circle","diamond","triangle-up"]}, "legend": {"title": null, "orient": "none", "legendX": 76, "legendY": -2, "direction": "horizontal", "columns": 4}},
   "fill": {"field": "virus", "type": "nominal", "scale": {"domain": ["JS/10","KR/07","MV/12","CA/09"], "range": ["transparent","transparent","transparent","#A8A22C"]}},
   "stroke": {"field": "virus", "type": "nominal", "scale": {"domain": ["JS/10","KR/07","MV/12","CA/09"], "range": ["#1B1BC4","#1E8C1E","#F01818","#6E6A12"]}}
  }},
 {"mark": {"type": "tick", "color": "#000", "thickness": 2, "size": 9, "opacity": 1}, "encoding": {"x": {"field": "cond", "type": "nominal", "title": null}, "y": {"aggregate": "mean", "field": "value", "type": "quantitative", "axis": null}}},
 {"transform": [{"filter": "datum.star == '*'"}], "mark": {"type": "text", "lineBreak": "\n", "lineHeight": 8.5, "baseline": "bottom", "dy": 0.5, "fontSize": 13, "color": "#333"}, "encoding": {"x": {"field": "cond", "type": "nominal", "title": null}, "y": {"field": "value", "type": "quantitative", "axis": null}, "text": {"field": "star"}}},
 {"transform": [{"filter": "datum.star && datum.star != '*'"}], "mark": {"type": "text", "lineBreak": "\n", "lineHeight": 8.5, "baseline": "bottom", "dy": -8, "fontSize": 13, "color": "#333"}, "encoding": {"x": {"field": "cond", "type": "nominal", "title": null}, "y": {"field": "value", "type": "quantitative", "axis": null}, "text": {"field": "star"}}},
 {"transform": [{"filter": "datum.hash == '#'"}], "mark": {"type": "text", "lineBreak": "\n", "lineHeight": 9, "baseline": "bottom", "dy": -4, "fontSize": 13, "color": "#333"}, "encoding": {"x": {"field": "cond", "type": "nominal", "title": null}, "y": {"field": "value", "type": "quantitative", "axis": null}, "text": {"field": "hash"}}},
 {"transform": [{"filter": "datum.hash && datum.hash != '#'"}], "mark": {"type": "text", "lineBreak": "\n", "lineHeight": 9, "baseline": "bottom", "dy": -11.5, "fontSize": 13, "color": "#333"}, "encoding": {"x": {"field": "cond", "type": "nominal", "title": null}, "y": {"field": "value", "type": "quantitative", "axis": null}, "text": {"field": "hash"}}},
 {"data": {"values": [{}]}, "mark": {"type": "point", "shape": "M-0.91,-0.4H1.09V0.4H-0.91Z", "size": 2500, "filled": true, "fill": "#fff", "stroke": "#8a8a8a", "strokeWidth": 1.5, "opacity": 1}, "encoding": {"x": {"datum": "JS/10|7", "type": "nominal", "title": null}, "y": {"datum": 8.83, "type": "quantitative", "axis": null}}},
 {"data": {"values": [{}]}, "mark": {"type": "text", "text": "Heart", "align": "left", "baseline": "middle", "dx": 1.5, "fontSize": 11.5, "fontWeight": "bold", "color": "#000"}, "encoding": {"x": {"datum": "s2", "type": "nominal", "title": null}, "y": {"datum": 8.83, "type": "quantitative", "axis": null}}},
 {"data": {"values": [{}]}, "mark": {"type": "text", "text": "b", "align": "left", "baseline": "alphabetic", "dx": -39.5, "dy": 4, "fontSize": 17, "fontWeight": "bold", "color": "#000"}, "encoding": {"x": {"datum": "JS/10|1", "type": "nominal", "title": null}, "y": {"datum": 9, "type": "quantitative", "axis": null}}}
]},
{"width": 342, "height": 210, "data": {"name": "liver"}, "resolve": {"axis": {"y": "independent"}}, "layer": [
 {"data": {"values": [{}]}, "mark": {"type": "rule"}, "encoding": {"y": {"datum": 2.2, "type": "quantitative", "axis": null}}},
 {"data": {"values": [{}]}, "mark": {"type": "rule"}, "encoding": {"x": {"datum": "d1", "type": "nominal", "title": null}, "y": {"datum": 7.35, "type": "quantitative", "axis": null}, "y2": {"datum": -0.27}}},
 {"data": {"values": [{}]}, "mark": {"type": "rule"}, "encoding": {"x": {"datum": "d2", "type": "nominal", "title": null}, "y": {"datum": 7.35, "type": "quantitative", "axis": null}, "y2": {"datum": -0.27}}},
 {"data": {"values": [{}]}, "mark": {"type": "rule"}, "encoding": {"x": {"datum": "d3", "type": "nominal", "title": null}, "y": {"datum": 7.35, "type": "quantitative", "axis": null}, "y2": {"datum": -0.27}}},
 {"mark": {"type": "point", "filled": true, "opacity": 1, "size": 38, "strokeWidth": 1.4},
  "encoding": {
   "x": {"field": "cond", "type": "nominal", "title": null, "scale": {"type": "band", "paddingInner": 0, "paddingOuter": 0.5, "domain": ["JS/10|1","s2","JS/10|4","s4","JS/10|7","s6","JS/10|11","s8","JS/10|14","s10","s11","s12","d1","s14","s15","KR/07|1","s17","KR/07|4","s19","KR/07|7","s21","KR/07|11","s23","KR/07|14","s25","s26","d2","s28","s29","MV/12|1","s31","MV/12|4","s33","MV/12|7","s35","MV/12|11","s37","MV/12|14","s39","s40","d3","s42","s43","CA/09|1","s45","CA/09|4","s47","CA/09|7","s49","CA/09|11","s51","CA/09|14"]}, "axis": {"title": null, "values": ["JS/10|1","JS/10|4","JS/10|7","JS/10|11","JS/10|14","KR/07|1","KR/07|4","KR/07|7","KR/07|11","KR/07|14","MV/12|1","MV/12|4","MV/12|7","MV/12|11","MV/12|14","CA/09|1","CA/09|4","CA/09|7","CA/09|11","CA/09|14"], "labelExpr": "split(datum.value, '|')[1]"}},
   "xOffset": {"field": "mouse", "type": "ordinal", "title": null, "scale": {"type": "point", "domain": [1, 2, 3], "padding": 0.45}},
   "y": {"field": "value", "type": "quantitative", "title": "log₁₀ (viral RNA copies)/g", "scale": {"domain": [0, 8], "nice": false}, "axis": {"values": [0,1,2,3,4,5,6,7,8], "labelOverlap": false}},
   "shape": {"field": "virus", "type": "nominal", "scale": {"domain": ["JS/10","KR/07","MV/12","CA/09"], "range": ["square","circle","diamond","triangle-up"]}, "legend": {"title": null, "orient": "none", "legendX": 76, "legendY": -1, "direction": "horizontal", "columns": 4}},
   "fill": {"field": "virus", "type": "nominal", "scale": {"domain": ["JS/10","KR/07","MV/12","CA/09"], "range": ["transparent","transparent","transparent","#A8A22C"]}},
   "stroke": {"field": "virus", "type": "nominal", "scale": {"domain": ["JS/10","KR/07","MV/12","CA/09"], "range": ["#1B1BC4","#1E8C1E","#F01818","#6E6A12"]}}
  }},
 {"mark": {"type": "tick", "color": "#000", "thickness": 2, "size": 9, "opacity": 1}, "encoding": {"x": {"field": "cond", "type": "nominal", "title": null}, "y": {"aggregate": "mean", "field": "value", "type": "quantitative", "axis": null}}},
 {"transform": [{"filter": "datum.star == '*'"}], "mark": {"type": "text", "lineBreak": "\n", "lineHeight": 8.5, "baseline": "bottom", "dy": 0.5, "fontSize": 13, "color": "#333"}, "encoding": {"x": {"field": "cond", "type": "nominal", "title": null}, "y": {"field": "value", "type": "quantitative", "axis": null}, "text": {"field": "star"}}},
 {"transform": [{"filter": "datum.star && datum.star != '*'"}], "mark": {"type": "text", "lineBreak": "\n", "lineHeight": 8.5, "baseline": "bottom", "dy": -8, "fontSize": 13, "color": "#333"}, "encoding": {"x": {"field": "cond", "type": "nominal", "title": null}, "y": {"field": "value", "type": "quantitative", "axis": null}, "text": {"field": "star"}}},
 {"transform": [{"filter": "datum.hash == '#'"}], "mark": {"type": "text", "lineBreak": "\n", "lineHeight": 9, "baseline": "bottom", "dy": -4, "fontSize": 13, "color": "#333"}, "encoding": {"x": {"field": "cond", "type": "nominal", "title": null}, "y": {"field": "value", "type": "quantitative", "axis": null}, "text": {"field": "hash"}}},
 {"transform": [{"filter": "datum.hash && datum.hash != '#'"}], "mark": {"type": "text", "lineBreak": "\n", "lineHeight": 9, "baseline": "bottom", "dy": -11.5, "fontSize": 13, "color": "#333"}, "encoding": {"x": {"field": "cond", "type": "nominal", "title": null}, "y": {"field": "value", "type": "quantitative", "axis": null}, "text": {"field": "hash"}}},
 {"data": {"values": [{}]}, "mark": {"type": "point", "shape": "M-0.91,-0.4H1.09V0.4H-0.91Z", "size": 2500, "filled": true, "fill": "#fff", "stroke": "#8a8a8a", "strokeWidth": 1.5, "opacity": 1}, "encoding": {"x": {"datum": "JS/10|7", "type": "nominal", "title": null}, "y": {"datum": 7.75, "type": "quantitative", "axis": null}}},
 {"data": {"values": [{}]}, "mark": {"type": "text", "text": "Liver", "align": "left", "baseline": "middle", "dx": 1.5, "fontSize": 11.5, "fontWeight": "bold", "color": "#000"}, "encoding": {"x": {"datum": "s2", "type": "nominal", "title": null}, "y": {"datum": 7.75, "type": "quantitative", "axis": null}}},
 {"data": {"values": [{}]}, "mark": {"type": "text", "text": "c", "align": "left", "baseline": "alphabetic", "dx": -31.5, "dy": 4, "fontSize": 17, "fontWeight": "bold", "color": "#000"}, "encoding": {"x": {"datum": "JS/10|1", "type": "nominal", "title": null}, "y": {"datum": 8, "type": "quantitative", "axis": null}}}
]},
{"width": 342, "height": 210, "data": {"name": "lung"}, "resolve": {"axis": {"y": "independent"}}, "layer": [
 {"data": {"values": [{}]}, "mark": {"type": "rule"}, "encoding": {"y": {"datum": 2.2, "type": "quantitative", "axis": null}}},
 {"data": {"values": [{}]}, "mark": {"type": "rule"}, "encoding": {"x": {"datum": "d1", "type": "nominal", "title": null}, "y": {"datum": 9.2, "type": "quantitative", "axis": null}, "y2": {"datum": -0.33}}},
 {"data": {"values": [{}]}, "mark": {"type": "rule"}, "encoding": {"x": {"datum": "d2", "type": "nominal", "title": null}, "y": {"datum": 9.2, "type": "quantitative", "axis": null}, "y2": {"datum": -0.33}}},
 {"data": {"values": [{}]}, "mark": {"type": "rule"}, "encoding": {"x": {"datum": "d3", "type": "nominal", "title": null}, "y": {"datum": 9.2, "type": "quantitative", "axis": null}, "y2": {"datum": -0.33}}},
 {"mark": {"type": "point", "filled": true, "opacity": 1, "size": 38, "strokeWidth": 1.4},
  "encoding": {
   "x": {"field": "cond", "type": "nominal", "title": null, "scale": {"type": "band", "paddingInner": 0, "paddingOuter": 0.5, "domain": ["JS/10|1","s2","JS/10|4","s4","JS/10|7","s6","JS/10|11","s8","JS/10|14","s10","s11","s12","d1","s14","s15","KR/07|1","s17","KR/07|4","s19","KR/07|7","s21","KR/07|11","s23","KR/07|14","s25","s26","d2","s28","s29","MV/12|1","s31","MV/12|4","s33","MV/12|7","s35","MV/12|11","s37","MV/12|14","s39","s40","d3","s42","s43","CA/09|1","s45","CA/09|4","s47","CA/09|7","s49","CA/09|11","s51","CA/09|14"]}, "axis": {"title": null, "values": ["JS/10|1","JS/10|4","JS/10|7","JS/10|11","JS/10|14","KR/07|1","KR/07|4","KR/07|7","KR/07|11","KR/07|14","MV/12|1","MV/12|4","MV/12|7","MV/12|11","MV/12|14","CA/09|1","CA/09|4","CA/09|7","CA/09|11","CA/09|14"], "labelExpr": "split(datum.value, '|')[1]"}},
   "xOffset": {"field": "mouse", "type": "ordinal", "title": null, "scale": {"type": "point", "domain": [1, 2, 3], "padding": 0.45}},
   "y": {"field": "value", "type": "quantitative", "title": "log₁₀ (viral RNA copies)/g", "scale": {"domain": [0, 10], "nice": false}, "axis": {"values": [0,1,2,3,4,5,6,7,8,9,10], "labelOverlap": false}},
   "shape": {"field": "virus", "type": "nominal", "scale": {"domain": ["JS/10","KR/07","MV/12","CA/09"], "range": ["square","circle","diamond","triangle-up"]}, "legend": {"title": null, "orient": "none", "legendX": 76, "legendY": -1, "direction": "horizontal", "columns": 4}},
   "fill": {"field": "virus", "type": "nominal", "scale": {"domain": ["JS/10","KR/07","MV/12","CA/09"], "range": ["transparent","transparent","transparent","#A8A22C"]}},
   "stroke": {"field": "virus", "type": "nominal", "scale": {"domain": ["JS/10","KR/07","MV/12","CA/09"], "range": ["#1B1BC4","#1E8C1E","#F01818","#6E6A12"]}}
  }},
 {"mark": {"type": "tick", "color": "#000", "thickness": 2, "size": 9, "opacity": 1}, "encoding": {"x": {"field": "cond", "type": "nominal", "title": null}, "y": {"aggregate": "mean", "field": "value", "type": "quantitative", "axis": null}}},
 {"transform": [{"filter": "datum.star == '*'"}], "mark": {"type": "text", "lineBreak": "\n", "lineHeight": 8.5, "baseline": "bottom", "dy": 0.5, "fontSize": 13, "color": "#333"}, "encoding": {"x": {"field": "cond", "type": "nominal", "title": null}, "y": {"field": "value", "type": "quantitative", "axis": null}, "text": {"field": "star"}}},
 {"transform": [{"filter": "datum.star && datum.star != '*'"}], "mark": {"type": "text", "lineBreak": "\n", "lineHeight": 8.5, "baseline": "bottom", "dy": -8, "fontSize": 13, "color": "#333"}, "encoding": {"x": {"field": "cond", "type": "nominal", "title": null}, "y": {"field": "value", "type": "quantitative", "axis": null}, "text": {"field": "star"}}},
 {"transform": [{"filter": "datum.hash == '#'"}], "mark": {"type": "text", "lineBreak": "\n", "lineHeight": 9, "baseline": "bottom", "dy": -4, "fontSize": 13, "color": "#333"}, "encoding": {"x": {"field": "cond", "type": "nominal", "title": null}, "y": {"field": "value", "type": "quantitative", "axis": null}, "text": {"field": "hash"}}},
 {"transform": [{"filter": "datum.hash && datum.hash != '#'"}], "mark": {"type": "text", "lineBreak": "\n", "lineHeight": 9, "baseline": "bottom", "dy": -11.5, "fontSize": 13, "color": "#333"}, "encoding": {"x": {"field": "cond", "type": "nominal", "title": null}, "y": {"field": "value", "type": "quantitative", "axis": null}, "text": {"field": "hash"}}},
 {"transform": [{"filter": "datum.hashBelow"}], "mark": {"type": "text", "lineBreak": "\n", "lineHeight": 9, "baseline": "top", "dy": 5, "fontSize": 13, "color": "#333"}, "encoding": {"x": {"field": "cond", "type": "nominal", "title": null}, "y": {"field": "value", "type": "quantitative", "axis": null}, "text": {"field": "hashBelow"}}},
 {"data": {"values": [{}]}, "mark": {"type": "point", "shape": "M-0.91,-0.4H1.09V0.4H-0.91Z", "size": 2500, "filled": true, "fill": "#fff", "stroke": "#8a8a8a", "strokeWidth": 1.5, "opacity": 1}, "encoding": {"x": {"datum": "JS/10|7", "type": "nominal", "title": null}, "y": {"datum": 9.6, "type": "quantitative", "axis": null}}},
 {"data": {"values": [{}]}, "mark": {"type": "text", "text": "Lung", "align": "left", "baseline": "middle", "dx": 1.5, "fontSize": 11.5, "fontWeight": "bold", "color": "#000"}, "encoding": {"x": {"datum": "s2", "type": "nominal", "title": null}, "y": {"datum": 9.6, "type": "quantitative", "axis": null}}},
 {"data": {"values": [{}]}, "mark": {"type": "text", "text": "d", "align": "left", "baseline": "alphabetic", "dx": -39.5, "dy": 4, "fontSize": 17, "fontWeight": "bold", "color": "#000"}, "encoding": {"x": {"datum": "JS/10|1", "type": "nominal", "title": null}, "y": {"datum": 10, "type": "quantitative", "axis": null}}}
]},
{"width": 342, "height": 210, "data": {"name": "spleen"}, "resolve": {"axis": {"y": "independent"}}, "layer": [
 {"data": {"values": [{}]}, "mark": {"type": "rule"}, "encoding": {"y": {"datum": 2.2, "type": "quantitative", "axis": null}}},
 {"data": {"values": [{}]}, "mark": {"type": "rule"}, "encoding": {"x": {"datum": "d1", "type": "nominal", "title": null}, "y": {"datum": 6.54, "type": "quantitative", "axis": null}, "y2": {"datum": -0.23}}},
 {"data": {"values": [{}]}, "mark": {"type": "rule"}, "encoding": {"x": {"datum": "d2", "type": "nominal", "title": null}, "y": {"datum": 6.54, "type": "quantitative", "axis": null}, "y2": {"datum": -0.23}}},
 {"data": {"values": [{}]}, "mark": {"type": "rule"}, "encoding": {"x": {"datum": "d3", "type": "nominal", "title": null}, "y": {"datum": 6.54, "type": "quantitative", "axis": null}, "y2": {"datum": -0.23}}},
 {"mark": {"type": "point", "filled": true, "opacity": 1, "size": 38, "strokeWidth": 1.4},
  "encoding": {
   "x": {"field": "cond", "type": "nominal", "title": null, "scale": {"type": "band", "paddingInner": 0, "paddingOuter": 0.5, "domain": ["JS/10|1","s2","JS/10|4","s4","JS/10|7","s6","JS/10|11","s8","JS/10|14","s10","s11","s12","d1","s14","s15","KR/07|1","s17","KR/07|4","s19","KR/07|7","s21","KR/07|11","s23","KR/07|14","s25","s26","d2","s28","s29","MV/12|1","s31","MV/12|4","s33","MV/12|7","s35","MV/12|11","s37","MV/12|14","s39","s40","d3","s42","s43","CA/09|1","s45","CA/09|4","s47","CA/09|7","s49","CA/09|11","s51","CA/09|14"]}, "axis": {"title": null, "values": ["JS/10|1","JS/10|4","JS/10|7","JS/10|11","JS/10|14","KR/07|1","KR/07|4","KR/07|7","KR/07|11","KR/07|14","MV/12|1","MV/12|4","MV/12|7","MV/12|11","MV/12|14","CA/09|1","CA/09|4","CA/09|7","CA/09|11","CA/09|14"], "labelExpr": "split(datum.value, '|')[1]"}},
   "xOffset": {"field": "mouse", "type": "ordinal", "title": null, "scale": {"type": "point", "domain": [1, 2, 3], "padding": 0.45}},
   "y": {"field": "value", "type": "quantitative", "title": "log₁₀ (viral RNA copies)/g", "scale": {"domain": [0, 7], "nice": false}, "axis": {"values": [0,1,2,3,4,5,6,7], "labelOverlap": false}},
   "shape": {"field": "virus", "type": "nominal", "scale": {"domain": ["JS/10","KR/07","MV/12","CA/09"], "range": ["square","circle","diamond","triangle-up"]}, "legend": {"title": null, "orient": "none", "legendX": 76, "legendY": -3, "direction": "horizontal", "columns": 4}},
   "fill": {"field": "virus", "type": "nominal", "scale": {"domain": ["JS/10","KR/07","MV/12","CA/09"], "range": ["transparent","transparent","transparent","#A8A22C"]}},
   "stroke": {"field": "virus", "type": "nominal", "scale": {"domain": ["JS/10","KR/07","MV/12","CA/09"], "range": ["#1B1BC4","#1E8C1E","#F01818","#6E6A12"]}}
  }},
 {"mark": {"type": "tick", "color": "#000", "thickness": 2, "size": 9, "opacity": 1}, "encoding": {"x": {"field": "cond", "type": "nominal", "title": null}, "y": {"aggregate": "mean", "field": "value", "type": "quantitative", "axis": null}}},
 {"transform": [{"filter": "datum.star == '*'"}], "mark": {"type": "text", "lineBreak": "\n", "lineHeight": 8.5, "baseline": "bottom", "dy": 0.5, "fontSize": 13, "color": "#333"}, "encoding": {"x": {"field": "cond", "type": "nominal", "title": null}, "y": {"field": "value", "type": "quantitative", "axis": null}, "text": {"field": "star"}}},
 {"transform": [{"filter": "datum.star && datum.star != '*'"}], "mark": {"type": "text", "lineBreak": "\n", "lineHeight": 8.5, "baseline": "bottom", "dy": -8, "fontSize": 13, "color": "#333"}, "encoding": {"x": {"field": "cond", "type": "nominal", "title": null}, "y": {"field": "value", "type": "quantitative", "axis": null}, "text": {"field": "star"}}},
 {"transform": [{"filter": "datum.hash == '#'"}], "mark": {"type": "text", "lineBreak": "\n", "lineHeight": 9, "baseline": "bottom", "dy": -4, "fontSize": 13, "color": "#333"}, "encoding": {"x": {"field": "cond", "type": "nominal", "title": null}, "y": {"field": "value", "type": "quantitative", "axis": null}, "text": {"field": "hash"}}},
 {"transform": [{"filter": "datum.hash && datum.hash != '#'"}], "mark": {"type": "text", "lineBreak": "\n", "lineHeight": 9, "baseline": "bottom", "dy": -11.5, "fontSize": 13, "color": "#333"}, "encoding": {"x": {"field": "cond", "type": "nominal", "title": null}, "y": {"field": "value", "type": "quantitative", "axis": null}, "text": {"field": "hash"}}},
 {"data": {"values": [{}]}, "mark": {"type": "point", "shape": "M-0.91,-0.4H1.09V0.4H-0.91Z", "size": 2500, "filled": true, "fill": "#fff", "stroke": "#8a8a8a", "strokeWidth": 1.5, "opacity": 1}, "encoding": {"x": {"datum": "JS/10|7", "type": "nominal", "title": null}, "y": {"datum": 6.83, "type": "quantitative", "axis": null}}},
 {"data": {"values": [{}]}, "mark": {"type": "text", "text": "Spleen", "align": "left", "baseline": "middle", "dx": 1.5, "fontSize": 11.5, "fontWeight": "bold", "color": "#000"}, "encoding": {"x": {"datum": "s2", "type": "nominal", "title": null}, "y": {"datum": 6.83, "type": "quantitative", "axis": null}}},
 {"data": {"values": [{}]}, "mark": {"type": "text", "text": "e", "align": "left", "baseline": "alphabetic", "dx": -31.5, "dy": 4, "fontSize": 17, "fontWeight": "bold", "color": "#000"}, "encoding": {"x": {"datum": "JS/10|1", "type": "nominal", "title": null}, "y": {"datum": 7, "type": "quantitative", "axis": null}}}
]},
{"width": 342, "height": 210, "data": {"name": "kidney"}, "resolve": {"axis": {"y": "independent"}}, "layer": [
 {"data": {"values": [{}]}, "mark": {"type": "rule"}, "encoding": {"y": {"datum": 2.2, "type": "quantitative", "axis": null}}},
 {"data": {"values": [{}]}, "mark": {"type": "rule"}, "encoding": {"x": {"datum": "d1", "type": "nominal", "title": null}, "y": {"datum": 7.46, "type": "quantitative", "axis": null}, "y2": {"datum": -0.27}}},
 {"data": {"values": [{}]}, "mark": {"type": "rule"}, "encoding": {"x": {"datum": "d2", "type": "nominal", "title": null}, "y": {"datum": 7.46, "type": "quantitative", "axis": null}, "y2": {"datum": -0.27}}},
 {"data": {"values": [{}]}, "mark": {"type": "rule"}, "encoding": {"x": {"datum": "d3", "type": "nominal", "title": null}, "y": {"datum": 7.46, "type": "quantitative", "axis": null}, "y2": {"datum": -0.27}}},
 {"mark": {"type": "point", "filled": true, "opacity": 1, "size": 38, "strokeWidth": 1.4},
  "encoding": {
   "x": {"field": "cond", "type": "nominal", "title": null, "scale": {"type": "band", "paddingInner": 0, "paddingOuter": 0.5, "domain": ["JS/10|1","s2","JS/10|4","s4","JS/10|7","s6","JS/10|11","s8","JS/10|14","s10","s11","s12","d1","s14","s15","KR/07|1","s17","KR/07|4","s19","KR/07|7","s21","KR/07|11","s23","KR/07|14","s25","s26","d2","s28","s29","MV/12|1","s31","MV/12|4","s33","MV/12|7","s35","MV/12|11","s37","MV/12|14","s39","s40","d3","s42","s43","CA/09|1","s45","CA/09|4","s47","CA/09|7","s49","CA/09|11","s51","CA/09|14"]}, "axis": {"title": null, "values": ["JS/10|1","JS/10|4","JS/10|7","JS/10|11","JS/10|14","KR/07|1","KR/07|4","KR/07|7","KR/07|11","KR/07|14","MV/12|1","MV/12|4","MV/12|7","MV/12|11","MV/12|14","CA/09|1","CA/09|4","CA/09|7","CA/09|11","CA/09|14"], "labelExpr": "split(datum.value, '|')[1]"}},
   "xOffset": {"field": "mouse", "type": "ordinal", "title": null, "scale": {"type": "point", "domain": [1, 2, 3], "padding": 0.45}},
   "y": {"field": "value", "type": "quantitative", "title": "log₁₀ (viral RNA copies)/g", "scale": {"domain": [0, 8], "nice": false}, "axis": {"values": [0,1,2,3,4,5,6,7,8], "labelOverlap": false}},
   "shape": {"field": "virus", "type": "nominal", "scale": {"domain": ["JS/10","KR/07","MV/12","CA/09"], "range": ["square","circle","diamond","triangle-up"]}, "legend": {"title": null, "orient": "none", "legendX": 76, "legendY": -5, "direction": "horizontal", "columns": 4}},
   "fill": {"field": "virus", "type": "nominal", "scale": {"domain": ["JS/10","KR/07","MV/12","CA/09"], "range": ["transparent","transparent","transparent","#A8A22C"]}},
   "stroke": {"field": "virus", "type": "nominal", "scale": {"domain": ["JS/10","KR/07","MV/12","CA/09"], "range": ["#1B1BC4","#1E8C1E","#F01818","#6E6A12"]}}
  }},
 {"mark": {"type": "tick", "color": "#000", "thickness": 2, "size": 9, "opacity": 1}, "encoding": {"x": {"field": "cond", "type": "nominal", "title": null}, "y": {"aggregate": "mean", "field": "value", "type": "quantitative", "axis": null}}},
 {"transform": [{"filter": "datum.star == '*'"}], "mark": {"type": "text", "lineBreak": "\n", "lineHeight": 8.5, "baseline": "bottom", "dy": 0.5, "fontSize": 13, "color": "#333"}, "encoding": {"x": {"field": "cond", "type": "nominal", "title": null}, "y": {"field": "value", "type": "quantitative", "axis": null}, "text": {"field": "star"}}},
 {"transform": [{"filter": "datum.star && datum.star != '*'"}], "mark": {"type": "text", "lineBreak": "\n", "lineHeight": 8.5, "baseline": "bottom", "dy": -8, "fontSize": 13, "color": "#333"}, "encoding": {"x": {"field": "cond", "type": "nominal", "title": null}, "y": {"field": "value", "type": "quantitative", "axis": null}, "text": {"field": "star"}}},
 {"transform": [{"filter": "datum.hash == '#'"}], "mark": {"type": "text", "lineBreak": "\n", "lineHeight": 9, "baseline": "bottom", "dy": -4, "fontSize": 13, "color": "#333"}, "encoding": {"x": {"field": "cond", "type": "nominal", "title": null}, "y": {"field": "value", "type": "quantitative", "axis": null}, "text": {"field": "hash"}}},
 {"transform": [{"filter": "datum.hash && datum.hash != '#'"}], "mark": {"type": "text", "lineBreak": "\n", "lineHeight": 9, "baseline": "bottom", "dy": -11.5, "fontSize": 13, "color": "#333"}, "encoding": {"x": {"field": "cond", "type": "nominal", "title": null}, "y": {"field": "value", "type": "quantitative", "axis": null}, "text": {"field": "hash"}}},
 {"data": {"values": [{}]}, "mark": {"type": "point", "shape": "M-0.91,-0.4H1.09V0.4H-0.91Z", "size": 2500, "filled": true, "fill": "#fff", "stroke": "#8a8a8a", "strokeWidth": 1.5, "opacity": 1}, "encoding": {"x": {"datum": "JS/10|7", "type": "nominal", "title": null}, "y": {"datum": 7.89, "type": "quantitative", "axis": null}}},
 {"data": {"values": [{}]}, "mark": {"type": "text", "text": "Kidney", "align": "left", "baseline": "middle", "dx": 1.5, "fontSize": 11.5, "fontWeight": "bold", "color": "#000"}, "encoding": {"x": {"datum": "s2", "type": "nominal", "title": null}, "y": {"datum": 7.89, "type": "quantitative", "axis": null}}},
 {"data": {"values": [{}]}, "mark": {"type": "text", "text": "f", "align": "left", "baseline": "alphabetic", "dx": -39.5, "dy": 4, "fontSize": 17, "fontWeight": "bold", "color": "#000"}, "encoding": {"x": {"datum": "JS/10|1", "type": "nominal", "title": null}, "y": {"datum": 8, "type": "quantitative", "axis": null}}}
]},
{"width": 342, "height": 210, "data": {"name": "intestine"}, "resolve": {"axis": {"y": "independent"}}, "layer": [
 {"data": {"values": [{}]}, "mark": {"type": "rule"}, "encoding": {"y": {"datum": 2.2, "type": "quantitative", "axis": null}}},
 {"data": {"values": [{}]}, "mark": {"type": "rule"}, "encoding": {"x": {"datum": "d1", "type": "nominal", "title": null}, "y": {"datum": 6.6, "type": "quantitative", "axis": null}, "y2": {"datum": -0.23}}},
 {"data": {"values": [{}]}, "mark": {"type": "rule"}, "encoding": {"x": {"datum": "d2", "type": "nominal", "title": null}, "y": {"datum": 6.6, "type": "quantitative", "axis": null}, "y2": {"datum": -0.23}}},
 {"data": {"values": [{}]}, "mark": {"type": "rule"}, "encoding": {"x": {"datum": "d3", "type": "nominal", "title": null}, "y": {"datum": 6.6, "type": "quantitative", "axis": null}, "y2": {"datum": -0.23}}},
 {"mark": {"type": "point", "filled": true, "opacity": 1, "size": 38, "strokeWidth": 1.4},
  "encoding": {
   "x": {"field": "cond", "type": "nominal", "title": null, "scale": {"type": "band", "paddingInner": 0, "paddingOuter": 0.5, "domain": ["JS/10|1","s2","JS/10|4","s4","JS/10|7","s6","JS/10|11","s8","JS/10|14","s10","s11","s12","d1","s14","s15","KR/07|1","s17","KR/07|4","s19","KR/07|7","s21","KR/07|11","s23","KR/07|14","s25","s26","d2","s28","s29","MV/12|1","s31","MV/12|4","s33","MV/12|7","s35","MV/12|11","s37","MV/12|14","s39","s40","d3","s42","s43","CA/09|1","s45","CA/09|4","s47","CA/09|7","s49","CA/09|11","s51","CA/09|14"]}, "axis": {"title": null, "values": ["JS/10|1","JS/10|4","JS/10|7","JS/10|11","JS/10|14","KR/07|1","KR/07|4","KR/07|7","KR/07|11","KR/07|14","MV/12|1","MV/12|4","MV/12|7","MV/12|11","MV/12|14","CA/09|1","CA/09|4","CA/09|7","CA/09|11","CA/09|14"], "labelExpr": "split(datum.value, '|')[1]"}},
   "xOffset": {"field": "mouse", "type": "ordinal", "title": null, "scale": {"type": "point", "domain": [1, 2, 3], "padding": 0.45}},
   "y": {"field": "value", "type": "quantitative", "title": "log₁₀ (viral RNA copies)/g", "scale": {"domain": [0, 7], "nice": false}, "axis": {"values": [0,1,2,3,4,5,6,7], "labelOverlap": false}},
   "shape": {"field": "virus", "type": "nominal", "scale": {"domain": ["JS/10","KR/07","MV/12","CA/09"], "range": ["square","circle","diamond","triangle-up"]}, "legend": {"title": null, "orient": "none", "legendX": 76, "legendY": -5, "direction": "horizontal", "columns": 4}},
   "fill": {"field": "virus", "type": "nominal", "scale": {"domain": ["JS/10","KR/07","MV/12","CA/09"], "range": ["transparent","transparent","transparent","#A8A22C"]}},
   "stroke": {"field": "virus", "type": "nominal", "scale": {"domain": ["JS/10","KR/07","MV/12","CA/09"], "range": ["#1B1BC4","#1E8C1E","#F01818","#6E6A12"]}}
  }},
 {"mark": {"type": "tick", "color": "#000", "thickness": 2, "size": 9, "opacity": 1}, "encoding": {"x": {"field": "cond", "type": "nominal", "title": null}, "y": {"aggregate": "mean", "field": "value", "type": "quantitative", "axis": null}}},
 {"transform": [{"filter": "datum.star == '*'"}], "mark": {"type": "text", "lineBreak": "\n", "lineHeight": 8.5, "baseline": "bottom", "dy": 0.5, "fontSize": 13, "color": "#333"}, "encoding": {"x": {"field": "cond", "type": "nominal", "title": null}, "y": {"field": "value", "type": "quantitative", "axis": null}, "text": {"field": "star"}}},
 {"transform": [{"filter": "datum.star && datum.star != '*'"}], "mark": {"type": "text", "lineBreak": "\n", "lineHeight": 8.5, "baseline": "bottom", "dy": -8, "fontSize": 13, "color": "#333"}, "encoding": {"x": {"field": "cond", "type": "nominal", "title": null}, "y": {"field": "value", "type": "quantitative", "axis": null}, "text": {"field": "star"}}},
 {"data": {"values": [{}]}, "mark": {"type": "point", "shape": "M-0.91,-0.4H1.09V0.4H-0.91Z", "size": 2500, "filled": true, "fill": "#fff", "stroke": "#8a8a8a", "strokeWidth": 1.5, "opacity": 1}, "encoding": {"x": {"datum": "JS/10|7", "type": "nominal", "title": null}, "y": {"datum": 7.0, "type": "quantitative", "axis": null}}},
 {"data": {"values": [{}]}, "mark": {"type": "text", "text": "Intestine", "align": "left", "baseline": "middle", "dx": 1.5, "fontSize": 11.5, "fontWeight": "bold", "color": "#000"}, "encoding": {"x": {"datum": "s2", "type": "nominal", "title": null}, "y": {"datum": 7.0, "type": "quantitative", "axis": null}}},
 {"data": {"values": [{}]}, "mark": {"type": "text", "text": "g", "align": "left", "baseline": "alphabetic", "dx": -31.5, "dy": 4, "fontSize": 17, "fontWeight": "bold", "color": "#000"}, "encoding": {"x": {"datum": "JS/10|1", "type": "nominal", "title": null}, "y": {"datum": 7, "type": "quantitative", "axis": null}}}
]},
{"width": 342, "height": 210, "data": {"name": "feces"}, "resolve": {"axis": {"y": "independent"}}, "layer": [
 {"data": {"values": [{}]}, "mark": {"type": "rule"}, "encoding": {"y": {"datum": 2.2, "type": "quantitative", "axis": null}}},
 {"data": {"values": [{}]}, "mark": {"type": "rule"}, "encoding": {"x": {"datum": "d1", "type": "nominal", "title": null}, "y": {"datum": 6.53, "type": "quantitative", "axis": null}, "y2": {"datum": -0.23}}},
 {"data": {"values": [{}]}, "mark": {"type": "rule"}, "encoding": {"x": {"datum": "d2", "type": "nominal", "title": null}, "y": {"datum": 6.53, "type": "quantitative", "axis": null}, "y2": {"datum": -0.23}}},
 {"data": {"values": [{}]}, "mark": {"type": "rule"}, "encoding": {"x": {"datum": "d3", "type": "nominal", "title": null}, "y": {"datum": 6.53, "type": "quantitative", "axis": null}, "y2": {"datum": -0.23}}},
 {"mark": {"type": "point", "filled": true, "opacity": 1, "size": 38, "strokeWidth": 1.4},
  "encoding": {
   "x": {"field": "cond", "type": "nominal", "title": null, "scale": {"type": "band", "paddingInner": 0, "paddingOuter": 0.5, "domain": ["JS/10|1","s2","JS/10|4","s4","JS/10|7","s6","JS/10|11","s8","JS/10|14","s10","s11","s12","d1","s14","s15","KR/07|1","s17","KR/07|4","s19","KR/07|7","s21","KR/07|11","s23","KR/07|14","s25","s26","d2","s28","s29","MV/12|1","s31","MV/12|4","s33","MV/12|7","s35","MV/12|11","s37","MV/12|14","s39","s40","d3","s42","s43","CA/09|1","s45","CA/09|4","s47","CA/09|7","s49","CA/09|11","s51","CA/09|14"]}, "axis": {"title": null, "values": ["JS/10|1","JS/10|4","JS/10|7","JS/10|11","JS/10|14","KR/07|1","KR/07|4","KR/07|7","KR/07|11","KR/07|14","MV/12|1","MV/12|4","MV/12|7","MV/12|11","MV/12|14","CA/09|1","CA/09|4","CA/09|7","CA/09|11","CA/09|14"], "labelExpr": "split(datum.value, '|')[1]"}},
   "xOffset": {"field": "mouse", "type": "ordinal", "title": null, "scale": {"type": "point", "domain": [1, 2, 3], "padding": 0.45}},
   "y": {"field": "value", "type": "quantitative", "title": "log₁₀ (viral RNA copies)/g", "scale": {"domain": [0, 7], "nice": false}, "axis": {"values": [0,1,2,3,4,5,6,7], "labelOverlap": false}},
   "shape": {"field": "virus", "type": "nominal", "scale": {"domain": ["JS/10","KR/07","MV/12","CA/09"], "range": ["square","circle","diamond","triangle-up"]}, "legend": {"title": null, "orient": "none", "legendX": 76, "legendY": -6, "direction": "horizontal", "columns": 4}},
   "fill": {"field": "virus", "type": "nominal", "scale": {"domain": ["JS/10","KR/07","MV/12","CA/09"], "range": ["transparent","transparent","transparent","#A8A22C"]}},
   "stroke": {"field": "virus", "type": "nominal", "scale": {"domain": ["JS/10","KR/07","MV/12","CA/09"], "range": ["#1B1BC4","#1E8C1E","#F01818","#6E6A12"]}}
  }},
 {"mark": {"type": "tick", "color": "#000", "thickness": 2, "size": 9, "opacity": 1}, "encoding": {"x": {"field": "cond", "type": "nominal", "title": null}, "y": {"aggregate": "mean", "field": "value", "type": "quantitative", "axis": null}}},
 {"transform": [{"filter": "datum.star == '*'"}], "mark": {"type": "text", "lineBreak": "\n", "lineHeight": 8.5, "baseline": "bottom", "dy": 0.5, "fontSize": 13, "color": "#333"}, "encoding": {"x": {"field": "cond", "type": "nominal", "title": null}, "y": {"field": "value", "type": "quantitative", "axis": null}, "text": {"field": "star"}}},
 {"transform": [{"filter": "datum.star && datum.star != '*'"}], "mark": {"type": "text", "lineBreak": "\n", "lineHeight": 8.5, "baseline": "bottom", "dy": -8, "fontSize": 13, "color": "#333"}, "encoding": {"x": {"field": "cond", "type": "nominal", "title": null}, "y": {"field": "value", "type": "quantitative", "axis": null}, "text": {"field": "star"}}},
 {"transform": [{"filter": "datum.hash == '#'"}], "mark": {"type": "text", "lineBreak": "\n", "lineHeight": 9, "baseline": "bottom", "dy": -4, "fontSize": 13, "color": "#333"}, "encoding": {"x": {"field": "cond", "type": "nominal", "title": null}, "y": {"field": "value", "type": "quantitative", "axis": null}, "text": {"field": "hash"}}},
 {"transform": [{"filter": "datum.hash && datum.hash != '#'"}], "mark": {"type": "text", "lineBreak": "\n", "lineHeight": 9, "baseline": "bottom", "dy": -11.5, "fontSize": 13, "color": "#333"}, "encoding": {"x": {"field": "cond", "type": "nominal", "title": null}, "y": {"field": "value", "type": "quantitative", "axis": null}, "text": {"field": "hash"}}},
 {"data": {"values": [{}]}, "mark": {"type": "point", "shape": "M-0.91,-0.4H1.09V0.4H-0.91Z", "size": 2500, "filled": true, "fill": "#fff", "stroke": "#8a8a8a", "strokeWidth": 1.5, "opacity": 1}, "encoding": {"x": {"datum": "JS/10|7", "type": "nominal", "title": null}, "y": {"datum": 7.0, "type": "quantitative", "axis": null}}},
 {"data": {"values": [{}]}, "mark": {"type": "text", "text": "Feces", "align": "left", "baseline": "middle", "dx": 1.5, "fontSize": 11.5, "fontWeight": "bold", "color": "#000"}, "encoding": {"x": {"datum": "s2", "type": "nominal", "title": null}, "y": {"datum": 7.0, "type": "quantitative", "axis": null}}},
 {"data": {"values": [{}]}, "mark": {"type": "text", "text": "h", "align": "left", "baseline": "alphabetic", "dx": -39.5, "dy": 4, "fontSize": 17, "fontWeight": "bold", "color": "#000"}, "encoding": {"x": {"datum": "JS/10|1", "type": "nominal", "title": null}, "y": {"datum": 7, "type": "quantitative", "axis": null}}}
]}
]
}
